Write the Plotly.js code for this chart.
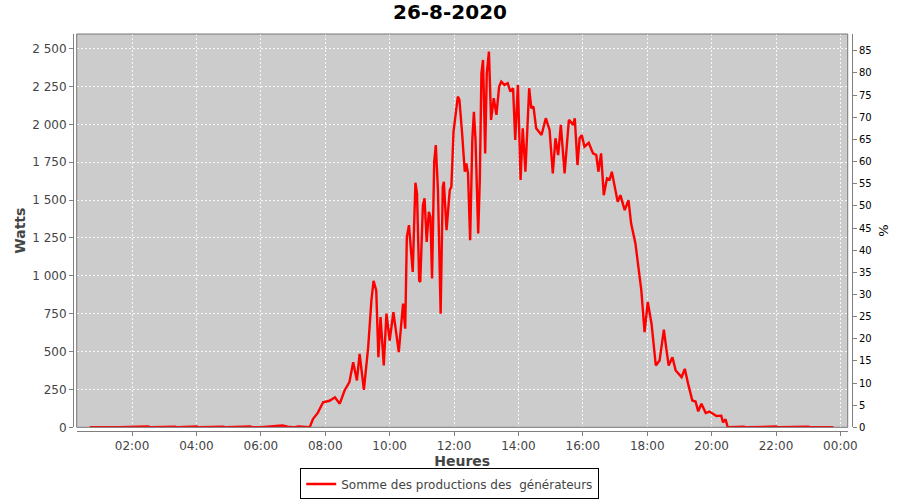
<!DOCTYPE html>
<html>
<head>
<meta charset="utf-8">
<script src="https://cdn.plot.ly/plotly-3.0.1.min.js"></script>
<style>html,body{margin:0;padding:0;background:#fff;}#chart{width:900px;height:500px;}</style>
</head>
<body>
<div id="chart"></div>
<script>
const day = '2020-08-26';
const chartTitle = '26-8-2020';
const seriesName = 'Somme des productions des \u00a0générateurs';
const times = [
 '00:41','01:00','01:30','01:35','02:30','02:35','03:20','03:25','04:00','04:05','04:50','04:55','05:40','05:45','06:00','06:30','06:40','06:50','07:00','07:10','07:20',
 '07:31','07:37','07:46','07:56','08:08','08:18','08:27','08:36','08:45','08:52','08:59','09:04','09:12','09:20','09:26','09:30','09:35','09:39','09:43','09:49','09:54',
 '10:00','10:07','10:17','10:25','10:29','10:32','10:36','10:43','10:48','10:51','10:55','10:57','11:02','11:05','11:09','11:13','11:16','11:19','11:23','11:26','11:30',
 '11:35','11:39','11:41','11:46','11:52','11:55','11:59','12:07','12:10','12:15','12:20','12:23','12:26','12:30','12:34','12:37','12:40','12:45','12:48','12:51','12:54',
 '12:58','13:01','13:05','13:09','13:14','13:19','13:24','13:28','13:34','13:40','13:45','13:50','13:54','13:59','14:04','14:08','14:13','14:20','14:24','14:28','14:33',
 '14:43','14:51','14:58','15:04','15:09','15:14','15:19','15:26','15:34','15:42','15:45','15:50','15:54','15:58','16:03','16:11','16:19','16:25','16:29','16:34','16:39',
 '16:45','16:50','16:54','16:59','17:05','17:10','17:18','17:25','17:30','17:38','17:45','17:49','17:55','18:01','18:08','18:16','18:23','18:31','18:36','18:40','18:47',
 '18:53','19:04','19:10','19:16','19:24','19:30','19:35','19:41','19:49','19:56','20:09','20:18','20:21','20:26','20:30','21:00','21:05','22:00','22:05','23:00','23:05','23:47'
];
const watts = [
 0,0,4,0,5,0,4,0,5,0,4,0,5,0,0,6,12,4,0,6,5,
 0,55,95,165,175,198,156,243,298,430,309,485,247,529,838,966,904,463,727,408,750,
 573,760,496,816,651,1257,1334,1025,1614,1544,970,959,1466,1511,1224,1422,1389,982,1753,1863,1566,
 750,1587,1620,1301,1566,1587,1950,2183,2161,1941,1687,1742,1676,1235,1896,2083,1896,1279,1632,2337,2425,
 1808,2337,2480,2029,2172,2062,2249,2282,2260,2271,2216,2238,1896,2260,1632,1974,1687,2238,2106,2117,1974,
 1929,2040,1963,1676,1908,1797,1996,1676,2029,1996,2040,1731,1908,1929,1852,1878,1808,1797,1687,1808,1532,
 1643,1636,1687,1587,1488,1532,1433,1499,1345,1213,1025,904,628,827,684,408,441,645,507,408,463,
 375,331,386,290,177,170,105,156,94,104,75,77,33,52,0,4,0,5,0,4,0,0
];
const xRange = ['2020-08-26 00:16:48', '2020-08-27 00:13:36'];
const wattsRange = [0, 2596];
const pctRange = [0, 88.8];

const xs = times.map(t => day + ' ' + t);
const font = 'DejaVu Sans, Verdana, sans-serif';
const xd = [0.00475, 0.9945], yd = [0.0093, 1];

const traces = [
  {x: xs, y: watts, type: 'scatter', mode: 'lines', name: seriesName,
   line: {color: '#ff0000', width: 2.4}, hoverinfo: 'skip'},
  {x: [xs[0]], y: [null], yaxis: 'y2', type: 'scatter', mode: 'lines', showlegend: false, hoverinfo: 'skip'}
];

const grid = {gridcolor: 'rgba(255,255,255,0.85)', griddash: '2px,2px', gridwidth: 1};
const layout = {
  width: 900, height: 500,
  margin: {l: 73, r: 48, t: 34, b: 69, autoexpand: false},
  paper_bgcolor: '#ffffff', plot_bgcolor: '#cccccc',
  separators: ', ',
  font: {family: font, color: '#444'},
  hovermode: false,
  title: {text: chartTitle, font: {family: font, size: 20, weight: 'bold', color: '#000'},
          x: 0.5, xref: 'container', xanchor: 'center', y: 0.976, yref: 'container', yanchor: 'middle'},
  xaxis: Object.assign({type: 'date', domain: xd, range: xRange, anchor: 'free', position: 0,
    showline: true, linecolor: '#808080', linewidth: 1, ticks: 'outside', ticklen: 4, tickcolor: '#808080',
    tickformat: '%H:%M', dtick: 7200000, tick0: '2020-08-26 00:00', zeroline: false, automargin: false,
    tickfont: {family: font, size: 12, color: '#444'},
    title: {text: 'Heures', font: {family: font, size: 14, weight: 'bold', color: '#444'}, standoff: 1}}, grid),
  yaxis: Object.assign({domain: yd, range: wattsRange, anchor: 'free', position: 0,
    showline: true, linecolor: '#808080', linewidth: 1, ticks: 'outside', ticklen: 4, tickcolor: '#808080',
    dtick: 250, tick0: 0, separatethousands: true, zeroline: false, automargin: false,
    tickfont: {family: font, size: 12, color: '#444'},
    title: {text: 'Watts', font: {family: font, size: 14, weight: 'bold', color: '#444'}, standoff: 2}}, grid),
  yaxis2: {overlaying: 'y', side: 'right', anchor: 'free', position: 1, range: pctRange,
    showgrid: false, zeroline: false, showline: true, linecolor: '#808080', linewidth: 1, automargin: false,
    ticks: 'outside', ticklen: 4, tickcolor: '#808080', dtick: 5, tick0: 0,
    tickfont: {family: font, size: 10, color: '#000'},
    title: {text: '%', font: {family: font, size: 13, color: '#000'}, standoff: 8}},
  showlegend: true,
  legend: {orientation: 'h', x: 0.4836, xanchor: 'center', y: -0.1725, yanchor: 'bottom',
    bordercolor: '#000', borderwidth: 1, bgcolor: '#fff', itemwidth: 30,
    font: {family: font, size: 12, color: '#444'}},
  shapes: [{type: 'rect', xref: 'paper', yref: 'paper', x0: xd[0], x1: xd[1], y0: yd[0], y1: yd[1],
    line: {color: '#777', width: 1}, fillcolor: 'rgba(0,0,0,0)', layer: 'above'}]
};
Plotly.newPlot('chart', traces, layout, {staticPlot: true, displayModeBar: false});
</script>
</body>
</html>
